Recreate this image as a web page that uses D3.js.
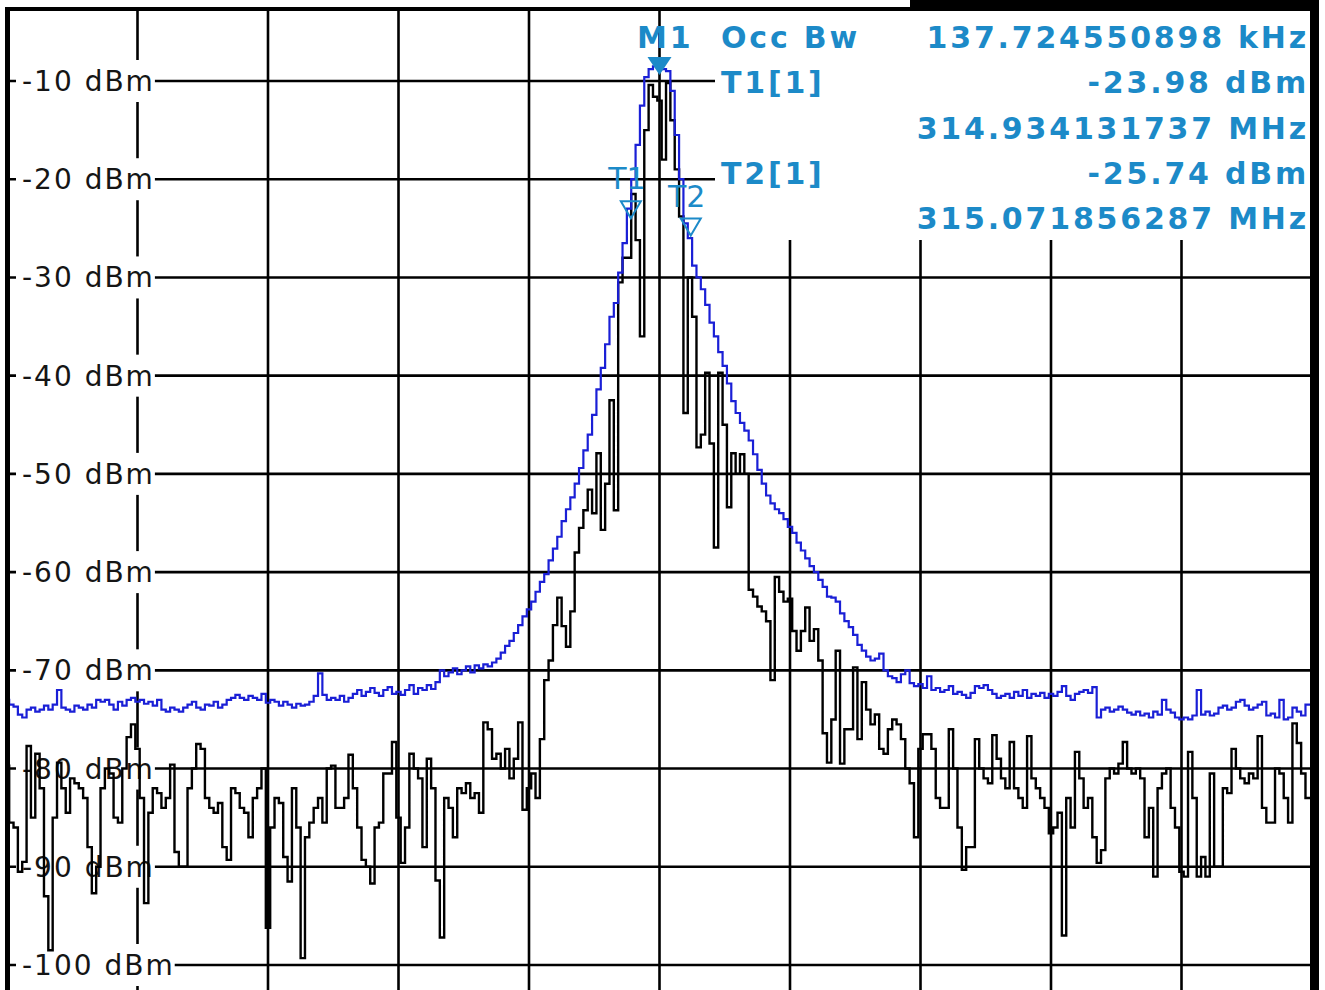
<!DOCTYPE html>
<html>
<head>
<meta charset="utf-8">
<script src="https://cdn.jsdelivr.net/npm/d3@7"></script>
<style>
  body { margin: 0; background: #fff; }
  svg { display: block; }
</style>
</head>
<body>
<svg id="screen" width="1325" height="990"></svg>
<script>
// sweep settings (MHz)
var startFreq = 313.5;
var stopFreq = 316.5;
var freqStep = 0.01;

var levelTicks = [-10, -20, -30, -40, -50, -60, -70, -80, -90, -100];
var gridFreqs = [313.8, 314.1, 314.4, 314.7, 315.0, 315.3, 315.6, 315.9, 316.2];

// trace 1 (clear write), dBm per sweep point
var clearWrite = [
  -79.7, -85.5, -86, -90.5, -89.5, -77.7, -85, -78.5, -82, -93,
  -98.5, -85, -79.4, -82, -84.5, -81, -81.5, -82, -83, -88,
  -92.7, -90, -82, -80, -80.5, -85, -85.5, -80, -76.8, -75.5,
  -78, -83, -93.7, -84.5, -82, -82.5, -84, -83, -79.6, -88.5,
  -90, -90, -82, -80, -77.5, -78, -83, -84, -84.5, -83.5,
  -88, -89.3, -82, -82.5, -84, -84.5, -87, -83, -82, -80,
  -96.2, -86, -83, -83.5, -89, -91.5, -82, -86, -99.3, -87,
  -85.5, -84, -83, -85.5, -80, -79.7, -84, -84, -83, -78.6,
  -82, -86, -89.3, -90, -91.7, -86, -85.5, -80.5, -80.5, -77.3,
  -85, -89.6, -86, -78.5, -80, -81, -88, -79, -82, -91.4,
  -97.2, -83, -84, -87, -82, -82.5, -81.5, -83, -82.5, -84.5,
  -75.3, -76, -79, -78.5, -80, -78, -81, -79, -75.3, -84.2,
  -82, -80.5, -83, -77, -71, -69, -65.4, -62.6, -65.5, -67.6,
  -64, -58, -55.5, -53.7, -51.6, -54, -47.9, -55.7, -51, -42.5,
  -53.7, -30.5, -28, -28, -21.5, -26.2, -36, -15, -10.4, -11.6,
  -12, -18, -10.2, -14, -19, -23.8, -43.8, -30, -34, -47.3,
  -46, -39.7, -46.9, -57.5, -39.7, -45, -53.4, -47.9, -50, -48,
  -50, -61.8, -62.5, -63.5, -64, -65, -71, -60.5, -62, -63,
  -62.7, -66, -68, -66, -63.6, -67, -65.8, -69, -76.4, -79.4,
  -75, -68, -79.5, -76, -76, -69.7, -77, -71.2, -74, -75.5,
  -74.5, -78, -78.5, -76, -75, -75.5, -77, -80, -81.5, -87,
  -78, -76.5, -76.5, -78, -83, -84, -84, -76, -80, -86,
  -90.3, -88, -88, -77, -80, -81, -81.5, -76.6, -79, -81,
  -82, -77.3, -82, -83, -84, -76.7, -81, -82, -83, -84,
  -86.6, -86, -84.5, -97, -83, -86, -78.3, -81, -84, -83,
  -87, -89.6, -88.3, -81, -80, -80.5, -79.5, -77.3, -80, -80.5,
  -80, -81, -87, -84, -91, -82, -80.5, -80, -84, -86,
  -90.5, -91, -78.3, -83, -91, -89, -91, -80.5, -90, -90,
  -82, -82.5, -78, -80, -81, -81.5, -80.5, -81, -76.7, -84,
  -85.5, -85.5, -80, -80.5, -83, -85.5, -75.4, -77.4, -80.5, -83,
  -83
];

// trace 2 (max hold)
var maxHold = [
  -73, -73.5, -73.7, -74.5, -74.8, -74, -73.8, -74.2, -74, -73.6,
  -74, -73.5, -72, -73.8, -74, -74.2, -73.6, -73.8, -74, -73.5,
  -73.8, -73, -73.2, -73, -73.5, -74, -73.2, -73.6, -73, -72.8,
  -73.2, -73, -73.4, -73.2, -73.6, -73, -74, -74.2, -73.8, -74,
  -74.2, -73.8, -73.5, -73.2, -73.8, -74, -73.5, -73.6, -73.2, -73.8,
  -73.5, -73, -72.8, -72.5, -72.8, -73, -72.6, -72.8, -73, -72.4,
  -73.3, -73, -73.2, -73.6, -73.2, -73.5, -73.8, -73.4, -73.6, -73.5,
  -73.2, -72.6, -70.3, -72.5, -73, -72.8, -73, -72.6, -73.2, -72.8,
  -72.4, -72, -72.6, -72.2, -71.8, -72.3, -72.6, -72, -71.7, -72.4,
  -72.2, -72.5, -72, -71.5, -72.4, -71.8, -72, -71.5, -71.9, -71.2,
  -70, -70.6, -70.2, -69.8, -70.4, -70, -69.6, -70.2, -69.5, -69.8,
  -69.4, -69.6, -69.2, -68.8, -68.2, -67.5, -67, -66.2, -65.4, -64.5,
  -63.8, -63, -62, -61, -60.2, -58.8, -57.6, -56.4, -54.8, -53.6,
  -52.4, -51, -49.4, -47.6, -46, -44, -41.4, -39.2, -36.8, -34,
  -32.6, -29.5, -26.5, -23, -20, -16.5, -12.5, -9.6, -8.8, -8.5,
  -8.6, -8.8, -9, -11, -15.5, -20, -24.5, -26, -28.8, -30,
  -31.2, -32.8, -34.6, -36, -37.6, -39, -40.8, -42.6, -43.8, -44.8,
  -45.6, -46.6, -48, -49.6, -51, -52.2, -53, -53.6, -54, -54.6,
  -55.4, -56, -57, -57.8, -58.6, -59.4, -60, -60.8, -61.5, -62.5,
  -62.6, -63, -64.2, -65, -65.6, -66.4, -67.4, -68, -68.6, -69,
  -68.8, -68.3, -70, -70.6, -70.8, -71.2, -70.4, -70, -71.3, -71.6,
  -71.4, -71.8, -70.6, -72, -71.8, -72.2, -72, -71.6, -72.4, -72.2,
  -72.5, -72.8, -72.3, -71.6, -71.8, -71.5, -72, -72.4, -72.8, -72.6,
  -72.4, -72.8, -72.2, -72.6, -72, -72.8, -72.4, -72.6, -72.3, -72.8,
  -72.4, -72.6, -72.2, -71.6, -72.6, -73, -72.4, -72.2, -72, -72.3,
  -71.7, -74.8, -74, -73.8, -74.2, -74, -73.7, -74, -74.3, -74.5,
  -74.2, -74.6, -74.4, -74.8, -74.2, -74.5, -73, -74, -74.3, -74.8,
  -75, -74.8, -75, -74.6, -72, -74.5, -74.2, -74.6, -74.4, -73.8,
  -73.6, -74, -73.8, -73.2, -73, -73.6, -74, -73.8, -73.5, -73.2,
  -74.6, -74.4, -74.8, -73, -75, -74.8, -73.8, -74.2, -74.6, -73.5,
  -73.5
];

// markers
var markerNames = ["M1", "T1", "T2"];
var markerFreqs = [315.0, 314.934131737, 315.071856287];
var markerLevels = [-9.4, -23.98, -25.74];

// marker info table
var infoLabels = ["Occ Bw", "T1[1]", "", "T2[1]", ""];
var infoValues = ["137.724550898 kHz", "-23.98 dBm", "314.934131737 MHz", "-25.74 dBm", "315.071856287 MHz"];

var markerBlue = "#1c8ac8";
var plotLeft = 7, plotRight = 1312, plotTop = 11, plotBottom = 990;

var svg = d3.select("#screen");

var x = d3.scaleLinear().domain([startFreq, stopFreq]).range([plotLeft, plotRight]);
var y = d3.scaleLinear().domain([-10, -100]).range([81, 965]);

function freqAt(i) {
  return startFreq + i * freqStep;
}

// grid
var grid = svg.append("g").attr("class", "grid");
grid.selectAll("line.v")
  .data(gridFreqs)
  .enter().append("line")
  .attr("class", "v")
  .attr("x1", function (d) { return x(d); })
  .attr("x2", function (d) { return x(d); })
  .attr("y1", plotTop)
  .attr("y2", plotBottom)
  .attr("stroke", "#000")
  .attr("stroke-width", 2.6);

grid.selectAll("line.h")
  .data(levelTicks)
  .enter().append("line")
  .attr("class", "h")
  .attr("x1", plotLeft)
  .attr("x2", plotRight)
  .attr("y1", function (d) { return y(d); })
  .attr("y2", function (d) { return y(d); })
  .attr("stroke", "#000")
  .attr("stroke-width", 2.6);

// level labels with white backing
var labels = svg.append("g").attr("class", "levels");
labels.selectAll("text")
  .data(levelTicks)
  .enter().append("text")
  .attr("x", 22)
  .attr("y", function (d) { return y(d) + 10; })
  .attr("font-family", "DejaVu Sans, Verdana, sans-serif")
  .attr("font-size", 28)
  .attr("letter-spacing", 2)
  .attr("fill", "#151515")
  .text(function (d) { return d + " dBm"; })
  .each(function (d) {
    var w = this.getComputedTextLength();
    labels.insert("rect", "text")
      .attr("x", 16)
      .attr("y", y(d) - 21)
      .attr("width", w + 6)
      .attr("height", 42)
      .attr("fill", "#fff");
  });

// info area backing
svg.append("rect")
  .attr("x", 715)
  .attr("y", plotTop)
  .attr("width", plotRight - 715)
  .attr("height", 229)
  .attr("fill", "#fff");

// traces
svg.append("clipPath")
  .attr("id", "plotClip")
  .append("rect")
  .attr("x", plotLeft)
  .attr("y", plotTop)
  .attr("width", plotRight - plotLeft)
  .attr("height", plotBottom - plotTop);

var traceLine = d3.line()
  .x(function (d, i) { return x(freqAt(i)); })
  .y(function (d) { return y(d); })
  .curve(d3.curveStep);

var traces = svg.append("g").attr("clip-path", "url(#plotClip)");
traces.append("path")
  .datum(clearWrite)
  .attr("d", traceLine)
  .attr("fill", "none")
  .attr("stroke", "#000")
  .attr("stroke-width", 2.4);
traces.append("path")
  .datum(maxHold)
  .attr("d", traceLine)
  .attr("fill", "none")
  .attr("stroke", "#1a1fd6")
  .attr("stroke-width", 2.2);

// marker info text
var info = svg.append("g")
  .attr("font-family", "DejaVu Sans, Verdana, sans-serif")
  .attr("font-weight", "bold")
  .attr("font-size", 30)
  .attr("letter-spacing", 2.8)
  .attr("fill", markerBlue);

info.append("text")
  .attr("x", 637)
  .attr("y", 48)
  .text(markerNames[0]);

info.selectAll("text.lab")
  .data(infoLabels)
  .enter().append("text")
  .attr("class", "lab")
  .attr("x", 721)
  .attr("y", function (d, i) { return 48 + i * 45.3; })
  .text(function (d) { return d; });

info.selectAll("text.val")
  .data(infoValues)
  .enter().append("text")
  .attr("class", "val")
  .attr("x", 1309)
  .attr("y", function (d, i) { return 48 + i * 45.3; })
  .attr("text-anchor", "end")
  .text(function (d) { return d; });

// marker symbols
var marks = svg.append("g");
markerNames.forEach(function (name, i) {
  var mx = x(markerFreqs[i]), my = y(markerLevels[i]);
  if (i === 0) {
    marks.append("path")
      .attr("d", "M" + (mx - 12) + "," + (my - 18) + "L" + (mx + 12) + "," + (my - 18) + "L" + mx + "," + my + "Z")
      .attr("fill", markerBlue);
    return;
  }
  marks.append("path")
    .attr("d", "M" + (mx - 10) + "," + (my - 17) + "L" + (mx + 10) + "," + (my - 17) + "L" + mx + "," + my + "Z")
    .attr("fill", "none")
    .attr("stroke", markerBlue)
    .attr("stroke-width", 2);
  marks.append("text")
    .attr("x", mx - 4)
    .attr("y", my - 29)
    .attr("text-anchor", "middle")
    .attr("font-family", "DejaVu Sans, Verdana, sans-serif")
    .attr("font-size", 30)
    .attr("fill", markerBlue)
    .text(name);
});

// screen frame
var frame = svg.append("g").attr("fill", "#000");
frame.append("rect").attr("x", 5).attr("y", 7).attr("width", 5).attr("height", plotBottom - 7);
frame.append("rect").attr("x", 5).attr("y", 7).attr("width", 1314).attr("height", 4);
frame.append("rect").attr("x", 910).attr("y", 0).attr("width", 409).attr("height", 10);
frame.append("rect").attr("x", 1310).attr("y", 0).attr("width", 9).attr("height", plotBottom);
</script>
</body>
</html>
